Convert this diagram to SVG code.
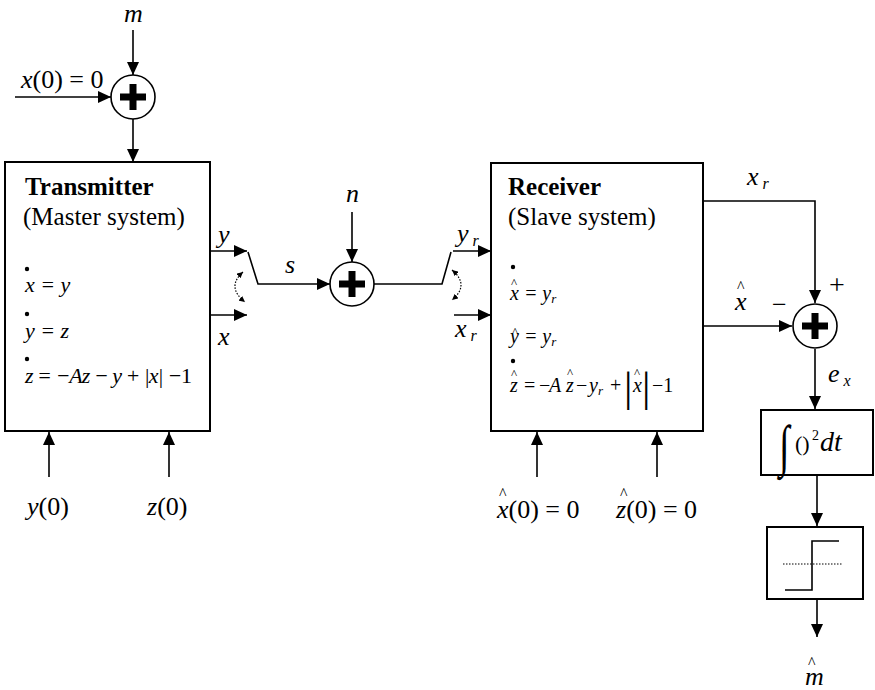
<svg xmlns="http://www.w3.org/2000/svg" width="875" height="690" viewBox="0 0 875 690">
<defs>
<marker id="ah" markerUnits="userSpaceOnUse" markerWidth="14" markerHeight="12" refX="13" refY="6" orient="auto"><path d="M0,0 L13,6 L0,12 z" fill="#000"/></marker>
<marker id="sh" markerUnits="userSpaceOnUse" markerWidth="7" markerHeight="6" refX="6" refY="3" orient="auto-start-reverse"><path d="M0,0 L6,3 L0,6 z" fill="#000"/></marker>
</defs>
<style>
.ln{stroke:#000;stroke-width:1.6;fill:none}
.arr{marker-end:url(#ah)}
.dot{stroke:#000;stroke-width:1.2;fill:none;stroke-dasharray:1.5,1.5;marker-start:url(#sh);marker-end:url(#sh)}
.box{fill:#fff;stroke:#000;stroke-width:2}
.sum{fill:#fff;stroke:#000;stroke-width:1.6}
.plus{stroke:#000;stroke-width:7;fill:none}
.bul{fill:#000}
text{font-family:"Liberation Serif","Times New Roman",serif;fill:#000}
.lbl{font-style:italic;font-size:26px}
.sub{font-size:16px}
.ttl{font-weight:bold;font-size:25px}
.rm{font-size:25px}
.eq{font-style:italic;font-size:22px}
.eq2{font-style:italic;font-size:20px}
.up{font-style:normal}
.hat{font-size:13px;font-style:normal}
.hat2{font-size:16px;font-style:normal}
</style>

<g id="connectors">
<line class="ln arr" x1="133" y1="30" x2="133" y2="75"/>
<line class="ln arr" x1="15" y1="97" x2="111" y2="97"/>
<line class="ln arr" x1="133" y1="119" x2="133" y2="162"/>
<line class="ln arr" x1="210" y1="251" x2="247" y2="251"/>
<line class="ln arr" x1="210" y1="315" x2="247" y2="315"/>
<polyline class="ln arr" points="248,252 258,284 330,284"/>
<line class="ln arr" x1="352" y1="212" x2="352" y2="262"/>
<polyline class="ln" points="374,284 442,284 451,252"/>
<line class="ln arr" x1="453" y1="251" x2="491" y2="251"/>
<line class="ln arr" x1="454" y1="315" x2="491" y2="315"/>
<path class="dot" d="M243,272 Q226,287 245,302"/>
<path class="dot" d="M452,270 Q470,285 452,300"/>
<line class="ln arr" x1="49" y1="477" x2="49" y2="432"/>
<line class="ln arr" x1="169" y1="477" x2="169" y2="432"/>
<line class="ln arr" x1="537" y1="477" x2="537" y2="432"/>
<line class="ln arr" x1="657" y1="477" x2="657" y2="432"/>
<polyline class="ln arr" points="703,201 815,201 815,303"/>
<line class="ln arr" x1="703" y1="326" x2="792" y2="326"/>
<line class="ln arr" x1="815" y1="349" x2="815" y2="409"/>
<line class="ln arr" x1="817" y1="475" x2="817" y2="526"/>
<line class="ln arr" x1="817" y1="599" x2="817" y2="637"/>
</g>

<g id="sum1">
<circle class="sum" cx="133" cy="97" r="22"/>
<path class="plus" d="M120,97 H146 M133,84 V110"/>
</g>

<g id="transmitter">
<rect class="box" x="5" y="162" width="205" height="269"/>
<text class="ttl" x="25" y="195">Transmitter</text>
<text class="rm" x="23" y="225">(Master system)</text>
<circle class="bul" cx="27" cy="269" r="2.2"/>
<text class="eq" x="25" y="292">x = y</text>
<circle class="bul" cx="27" cy="314" r="2.2"/>
<text class="eq" x="25" y="338">y = z</text>
<circle class="bul" cx="27" cy="359" r="2.2"/>
<text class="eq" x="25" y="383" textLength="167" lengthAdjust="spacing">z = −Az − y + |x| −<tspan class="up">1</tspan></text>
</g>

<g id="sum2">
<circle class="sum" cx="352" cy="284" r="22"/>
<path class="plus" d="M339,284 H365 M352,271 V297"/>
</g>

<g id="receiver">
<rect class="box" x="491" y="163" width="212" height="268"/>
<text class="ttl" x="508" y="195">Receiver</text>
<text class="rm" x="508" y="225">(Slave system)</text>
<circle class="bul" cx="513" cy="267" r="2.2"/>
<text class="hat" x="511" y="287">^</text>
<text class="eq2" x="510" y="300">x = y<tspan font-size="13" dy="3">r</tspan></text>
<text class="hat" x="512" y="336">^</text>
<text class="eq2" x="510" y="343">y = y<tspan font-size="13" dy="3">r</tspan></text>
<circle class="bul" cx="513" cy="361" r="2.2"/>
<text class="hat" x="511" y="378">^</text>
<text class="eq2" y="392"><tspan x="510">z</tspan><tspan x="524" class="up">=</tspan><tspan x="539" class="up">−</tspan><tspan x="549">A</tspan><tspan x="566">z</tspan><tspan x="576" class="up">−</tspan><tspan x="589">y</tspan><tspan font-size="13" dy="3">r</tspan><tspan dy="-3" x="610" class="up">+</tspan><tspan x="633">x</tspan><tspan x="652" class="up">−1</tspan></text>
<text class="hat" x="567" y="377">^</text>
<text class="hat" x="634" y="377">^</text>
<text x="624" y="401" font-size="42">|</text>
<text x="642" y="401" font-size="42">|</text>
</g>

<g id="sum3">
<circle class="sum" cx="815" cy="326" r="22"/>
<path class="plus" d="M802,326 H828 M815,313 V339"/>
</g>

<g id="integrator">
<rect class="box" x="761" y="410" width="112" height="65"/>
<text transform="translate(779,465) scale(1,1.5)" font-size="38">∫</text>
<text x="795" y="451" font-size="22">()</text>
<text x="812" y="440" font-size="14">2</text>
<text x="820" y="451" font-size="28" font-style="italic">dt</text>
</g>

<g id="threshold">
<rect class="box" x="767" y="527" width="96" height="72"/>
<polyline class="ln" points="785,590 812,590 812,541 839,541"/>
<line x1="783" y1="564" x2="843" y2="564" stroke="#000" stroke-width="1" stroke-dasharray="1.5,1.5"/>
</g>

<g id="labels">
<text class="lbl" x="124" y="22">m</text>
<text class="lbl" x="21" y="88">x<tspan class="up">(0) = 0</tspan></text>
<text class="lbl" x="218" y="243">y</text>
<text class="lbl" x="218" y="345">x</text>
<text class="lbl" x="285" y="273">s</text>
<text class="lbl" x="346" y="202">n</text>
<text class="lbl" x="457" y="242">y<tspan class="sub" dy="4"> r</tspan></text>
<text class="lbl" x="455" y="337">x<tspan class="sub" dy="4"> r</tspan></text>
<text class="lbl" x="27" y="515">y<tspan class="up">(0)</tspan></text>
<text class="lbl" x="147" y="515">z<tspan class="up">(0)</tspan></text>
<text class="hat2" x="499" y="499">^</text>
<text class="lbl" x="497" y="518">x<tspan class="up">(0) = 0</tspan></text>
<text class="hat2" x="620" y="499">^</text>
<text class="lbl" x="616" y="518">z<tspan class="up">(0) = 0</tspan></text>
<text class="lbl" x="747" y="185">x<tspan class="sub" dy="4"> r</tspan></text>
<text class="hat2" x="737" y="292">^</text>
<text class="lbl" x="735" y="310">x</text>
<text x="772" y="313" font-size="26">−</text>
<text x="829" y="294" font-size="28">+</text>
<text class="lbl" x="828" y="382">e<tspan class="sub" dy="4"> x</tspan></text>
<text class="hat2" x="808" y="668">^</text>
<text class="lbl" x="805" y="685">m</text>
</g>
</svg>
